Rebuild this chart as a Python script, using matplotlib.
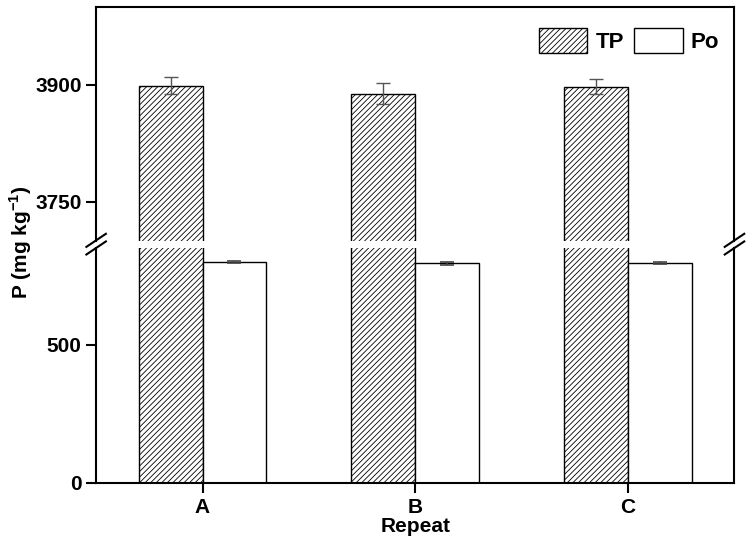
import matplotlib.pyplot as plt
import numpy as np

plt.rcParams['font.family'] = ['Liberation Sans', 'DejaVu Sans']
plt.rcParams['font.weight'] = 'bold'
plt.rcParams['mathtext.fontset'] = 'custom'
plt.rcParams['mathtext.rm'] = 'Liberation Sans:bold'
plt.rcParams['mathtext.bf'] = 'Liberation Sans:bold'
plt.rcParams['hatch.linewidth'] = 0.6
plt.rcParams['hatch.color'] = '#333333'

repeats = ['A', 'B', 'C']
tp = [3899, 3889, 3898]
tp_err = [11, 13, 9]
po = [800, 795, 795]
po_err = [5, 6, 3]

x = np.arange(1, len(repeats) + 1)
w = 0.3

fig = plt.figure(figsize=(7.51, 5.45), dpi=100)
ax_lo = fig.add_axes([0.128, 0.1138, 0.850, 0.431])
ax_hi = fig.add_axes([0.128, 0.5584, 0.850, 0.4286])

for ax in (ax_lo, ax_hi):
    ax.bar(x - w / 2, tp, w, facecolor='white', edgecolor='black', hatch='//////', linewidth=1, label='TP')
    ax.bar(x + w / 2, po, w, facecolor='white', edgecolor='black', linewidth=1, label='Po')
    ax.set_xlim(0.5, 3.5)
    for s in ax.spines.values():
        s.set_linewidth(1.5)
    ax.tick_params(axis='y', direction='out', length=7, width=1.5, labelsize=15)

ax_hi.errorbar(x - w / 2, tp, yerr=tp_err, fmt='none', ecolor='#555555', elinewidth=1, capsize=5, capthick=1)
ax_lo.errorbar(x + w / 2, po, yerr=po_err, fmt='none', ecolor='#444444', elinewidth=1.2, capsize=5, capthick=1.2)

ax_hi.set_ylim(3700, 4000)
ax_hi.set_yticks([3750, 3900])
ax_lo.set_ylim(0, 850)
ax_lo.set_yticks([0, 500])

ax_hi.spines['bottom'].set_visible(False)
ax_lo.spines['top'].set_visible(False)
ax_hi.set_xticks([])
ax_lo.set_xticks(x)
ax_lo.set_xticklabels(repeats)
ax_lo.tick_params(axis='x', direction='out', length=7, width=1.5, labelsize=15)
ax_lo.set_xlabel('Repeat', fontsize=15, fontweight='bold', labelpad=0)

leg = ax_hi.legend(loc='upper right', ncol=2, frameon=False, fontsize=16,
                   handlelength=2.2, handleheight=1.35, columnspacing=0.45,
                   handletextpad=0.35, borderaxespad=0.3, bbox_to_anchor=(1.0, 0.975))

fig.text(0.027, 0.555, r'P (mg kg$^{-1}$)', rotation=90, ha='center', va='center',
         fontsize=15, fontweight='bold')

# break marks
for xf in (0.128, 0.978):
    for dy in (0.0, 0.014):
        yb = 0.552 - 0.007 + dy
        fig.lines.append(plt.Line2D([xf - 0.013, xf + 0.013], [yb - 0.012, yb + 0.012],
                                    transform=fig.transFigure, color='black', linewidth=1.5))

fig.savefig('out.png', dpi=100)
